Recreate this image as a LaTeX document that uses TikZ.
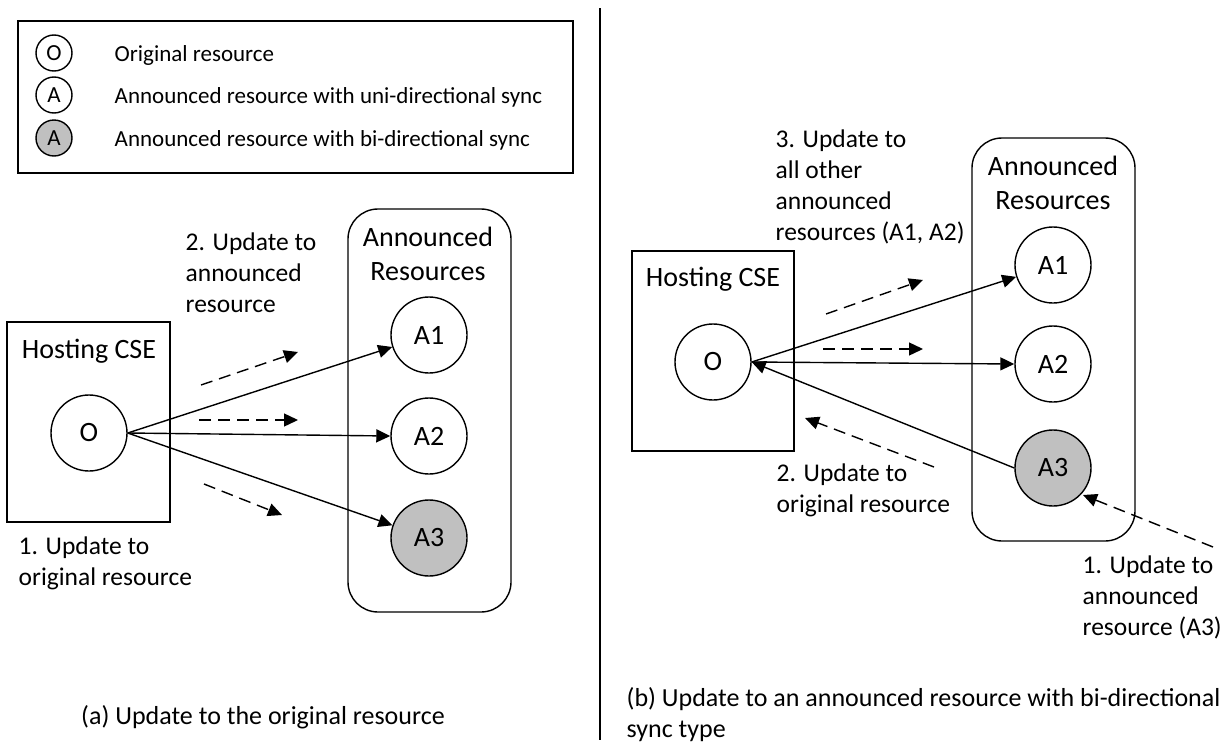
\documentclass[tikz,border=0pt]{standalone}
\usepackage{fontspec}
\setmainfont{Carlito}
\usetikzlibrary{shapes.geometric,arrows.meta}
\definecolor{bigray}{HTML}{C0C0C0}
\begin{document}
\begin{tikzpicture}[x=1pt,y=-1pt,
  line width=1.4pt,
  res/.style={draw,circle,minimum size=76pt,inner sep=0pt,font=\fontsize{28}{32}\selectfont},
  bires/.style={res,fill=bigray},
  leg/.style={draw,circle,minimum size=36pt,inner sep=0pt,font=\fontsize{23}{26}\selectfont},
  legtxt/.style={anchor=west,inner sep=0pt,font=\fontsize{23}{28}\selectfont},
  lbl/.style={anchor=west,inner sep=0pt,align=left,font=\fontsize{25.5}{31}\selectfont},
  ttl/.style={inner sep=0pt,align=center,font=\fontsize{28}{33.5}\selectfont},
  captxt/.style={inner sep=0pt,align=left,font=\fontsize{26}{31}\selectfont},
  boxx/.style={draw,rectangle,inner sep=0pt},
  cont/.style={draw,rectangle,rounded corners=30pt,inner sep=0pt},
  arr/.style={-{Triangle[length=14pt,width=13pt]}},
  darr/.style={-{Triangle[length=14pt,width=13pt]},dash pattern=on 12pt off 7pt}
]
\useasboundingbox (0,0) rectangle (1227,747);

% legend
\node[boxx,minimum width=555pt,minimum height=152pt] (legbox) at (295.5,97) {};
\node[leg] (lo) at (54,53) {O};
\node[leg] (la) at (54,95) {A};
\node[leg,fill=bigray] (lb) at (54,138) {A};
\node[legtxt] (lot) at (114,55) {Original resource};
\node[legtxt] (lat) at (114,97) {Announced resource with uni-directional sync};
\node[legtxt] (lbt) at (114,140) {Announced resource with bi-directional sync};

% divider
\coordinate (dtop) at (600,8);
\coordinate (dbot) at (600,740);
\draw (dtop) -- (dbot);

% ---------- panel (a) ----------
\node[boxx,minimum width=163pt,minimum height=200pt] (hostA) at (88.5,422) {};
\node[ttl] (hostAt) at (89,351) {Hosting CSE};
\node[cont,minimum width=163pt,minimum height=403pt] (contA) at (429.5,410.5) {};
\node[ttl] (contAt) at (428,254) {Announced\\Resources};
\node[res] (OA) at (89,433) {O};
\node[res] (A1a) at (429,335) {A1};
\node[res] (A2a) at (429,436) {A2};
\node[bires] (A3a) at (429,538) {A3};
\draw[arr] (OA.east) -- (A1a);
\draw[arr] (OA.east) -- (A2a.west);
\draw[arr] (OA.east) -- (A3a);

\coordinate (d1s) at (201,385); \coordinate (d1e) at (298,352);
\coordinate (d2s) at (199,420); \coordinate (d2e) at (298,420);
\coordinate (d3s) at (204,484); \coordinate (d3e) at (282,515);
\draw[darr] (d1s) -- (d1e);
\draw[darr] (d2s) -- (d2e);
\draw[darr] (d3s) -- (d3e);

\node[lbl] (la2) at (185,273) {2. Update to\\announced\\resource};
\node[lbl] (la1) at (18,563.5) {1. Update to\\original resource};
\node[captxt] (capA) at (263,717) {(a) Update to the original resource};

% ---------- panel (b) ----------
\node[boxx,minimum width=162pt,minimum height=200pt] (hostB) at (713,351) {};
\node[ttl] (hostBt) at (713,279) {Hosting CSE};
\node[cont,minimum width=163pt,minimum height=403pt] (contB) at (1053.5,339.5) {};
\node[ttl] (contBt) at (1053,183) {Announced\\Resources};
\node[res] (OB) at (713,362) {O};
\node[res] (A1b) at (1053,265) {A1};
\node[res] (A2b) at (1053,364) {A2};
\node[bires] (A3b) at (1053,468) {A3};
\draw[arr] (OB.east) -- (A1b);
\draw[arr] (OB.east) -- (A2b.west);
\draw[arr] (A3b.west) -- (OB.east);

\coordinate (e1s) at (826,314); \coordinate (e1e) at (923,280);
\coordinate (e2s) at (823,349); \coordinate (e2e) at (923,349);
\coordinate (e3s) at (934,467); \coordinate (e3e) at (805,418);
\coordinate (e4s) at (1213,547); \coordinate (e4e) at (1083,495);
\draw[darr] (e1s) -- (e1e);
\draw[darr] (e2s) -- (e2e);
\draw[darr] (e3s) -- (e3e);
\draw[darr] (e4s) -- (e4e);

\node[lbl] (lb3) at (775,186.5) {3. Update to\\all other\\announced\\resources (A1, A2)};
\node[lbl] (lb2) at (776,490) {2. Update to\\original resource};
\node[lbl] (lb1) at (1082,597) {1. Update to\\announced\\resource (A3)};
\node[captxt,anchor=west] (capB) at (626,714.5) {(b) Update to an announced resource with bi-directional\\sync type};
\end{tikzpicture}
\end{document}
